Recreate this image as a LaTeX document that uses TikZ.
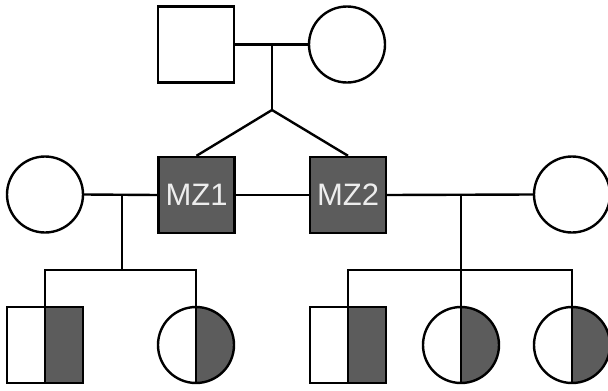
\documentclass[tikz,border=0pt]{standalone}
\usepackage{fontspec}
\setmainfont{Liberation Sans}
\definecolor{aff}{HTML}{5C5C5C}
\definecolor{lbl}{HTML}{EDEDED}
\begin{document}
\begin{tikzpicture}[x=1pt,y=-1pt,
  line width=2.4pt,
  person/.style={draw=black, line width=2.4pt, inner sep=0pt, minimum size=76pt},
  male/.style={person, rectangle, fill=white},
  female/.style={person, circle, fill=white},
  mz/.style={male, fill=aff, text=lbl, font=\fontsize{31}{31}\selectfont},
  halfaff/.style={path picture={
      \fill[aff] (path picture bounding box.north) rectangle (path picture bounding box.south east);
      \draw[line width=2.4pt] (path picture bounding box.north) -- (path picture bounding box.south);}},
  link/.style={draw=black, line width=2.4pt}
]
\useasboundingbox (0,0) rectangle (608,391);
% generation I
\node[male] (gf) at (196,44.5) {};
\node[female] (gm) at (347,44.5) {};
% generation II
\node[mz] (mz1) at (196.5,195) {MZ1};
\node[mz] (mz2) at (348,195) {MZ2};
\node[female] (wl) at (45,194.5) {};
\node[female] (wr) at (572,194.5) {};
% generation III
\node[male, halfaff] (c1) at (45,345) {};
\node[female, halfaff] (c2) at (196,345) {};
\node[male, halfaff] (c3) at (348,345) {};
\node[female, halfaff] (c4) at (461,345) {};
\node[female, halfaff] (c5) at (572,345) {};
% coordinates
\coordinate (tp) at (272,44.5);
\coordinate (tw) at (272,110);
\coordinate (lp) at (122,195);
\coordinate (ls) at (122,270);
\coordinate (rp) at (461,195);
\coordinate (rs) at (461,270);
% connectors
\draw[link] (gf.east) -- (gm.west);
\draw[link] (tp) -- (tw);
\draw[link] (tw) -- (mz1.north);
\draw[link] (tw) -- (mz2.north);
\draw[link] (mz1.east) -- (mz2.west);
\draw[link] (wl.east) -- (mz1.west);
\draw[link] (mz2.east) -- (wr.west);
\draw[link] (lp) -- (ls);
\draw[link] (c1.north) |- (ls) -| (c2.north);
\draw[link] (rp) -- (c4.north);
\draw[link] (c3.north) |- (rs) -| (c5.north);
\end{tikzpicture}
\end{document}
